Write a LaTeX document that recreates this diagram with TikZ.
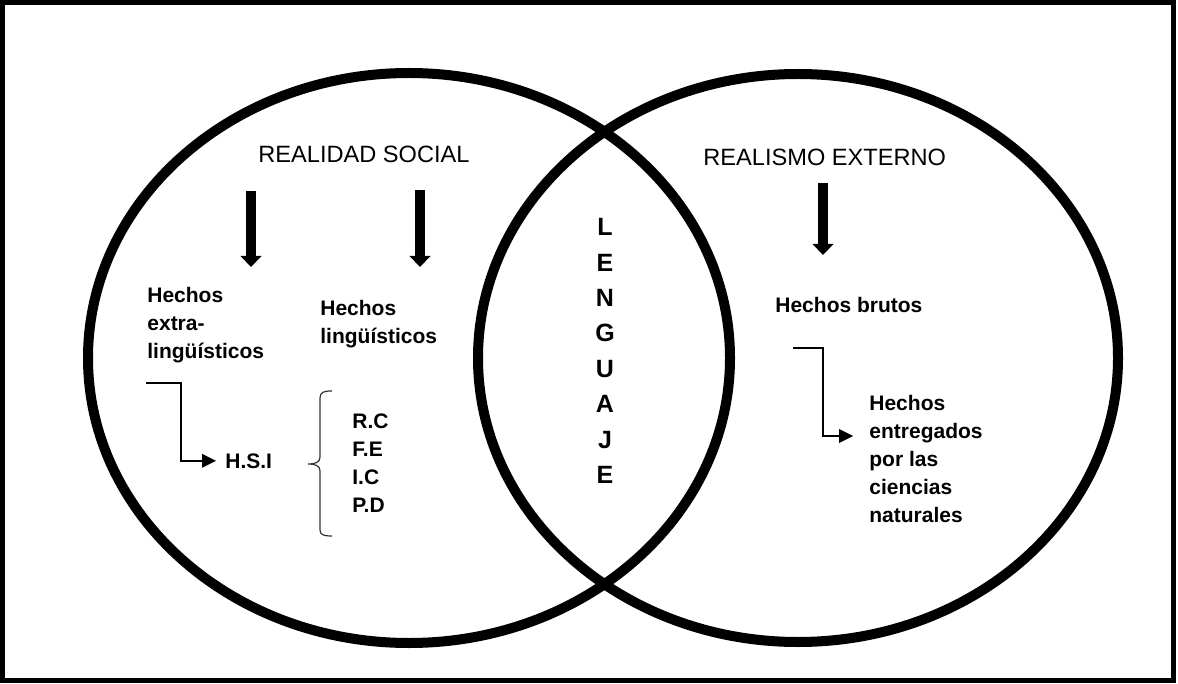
\documentclass[tikz,border=0pt]{standalone}
\usepackage{fontspec}
\setmainfont{Liberation Sans}
\usetikzlibrary{arrows.meta}
\tikzset{>/.tip={Triangle[width=7pt,length=7pt,line width=0pt]}}

\begin{document}
\begin{tikzpicture}[x=0.5pt, y=-0.5pt,
  ring/.style={line width=5pt},
  frame/.style={line width=2.5pt},
  title/.style={inner sep=0pt, font=\fontsize{11.8pt}{14pt}\selectfont},
  lbl/.style={inner sep=0pt, align=left, font=\fontsize{10.5pt}{14pt}\selectfont\bfseries},
  down/.style={line width=5pt, -{Triangle[width=10.5pt,length=5.5pt,line width=0pt]}},
  elbow/.style={line width=1pt, ->},
  curly/.style={draw=black!80, line width=0.6pt}]
\useasboundingbox (0,0) rectangle (1178,684);
\draw[frame] (2.5,2.5) rectangle (1173.5,680.5);
\draw[ring] (409,358) ellipse [x radius=160.5pt, y radius=142.5pt];
\draw[ring] (798,358) ellipse [x radius=160pt, y radius=142pt];

% realidad social
\node[title, anchor=base west] (rs) at (258,163) {REALIDAD SOCIAL};
\node[lbl, anchor=north west] (ext) at (147,287) {Hechos\\extra-\\lingüísticos};
\node[lbl, anchor=north west] (lin) at (320,300) {Hechos\\lingüísticos};
\coordinate (d1) at (251,191);
\coordinate (d2) at (420,190);
\draw[down] (d1) -- ++(0,76);
\draw[down] (d2) -- ++(0,77);
\node[lbl, anchor=base west] (hsi) at (225,468) {H.S.I};
\coordinate (c1) at (146,383);
\draw[elbow] (c1) -- ++(35,0) |- ([xshift=-4.5pt]hsi.west);
\node[lbl, anchor=north west] (rc) at (352,413) {R.C\\F.E\\I.C\\P.D};
\draw[curly] (332,391) .. controls (324,391) and (320,392) .. (320,398)
  -- (320,457) .. controls (320,462) and (316,464) .. (308,464)
  .. controls (316,464) and (320,466) .. (320,471)
  -- (320,530) .. controls (320,535) and (324,536) .. (332,536);

% lenguaje
\node[inner sep=0pt, align=center, anchor=north,
  font=\fontsize{12.5pt}{17.7pt}\selectfont\bfseries] (len) at (605,218) {L\\E\\N\\G\\U\\A\\J\\E};

% realismo externo
\node[title, anchor=base west] (re) at (703,166) {REALISMO EXTERNO};
\coordinate (d3) at (823,183);
\draw[down] (d3) -- ++(0,72);
\node[lbl, anchor=base west] (bru) at (775,313) {Hechos brutos};
\node[lbl, anchor=north west] (ent) at (869,395) {Hechos\\entregados\\por las\\ciencias\\naturales};
\coordinate (c2) at (793,348);
\coordinate (c3) at (853,436);
\draw[elbow] (c2) -- ++(30,0) |- (c3);
\end{tikzpicture}
\end{document}
